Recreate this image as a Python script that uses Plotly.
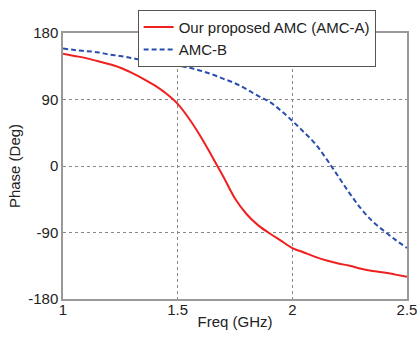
import plotly.graph_objects as go

freq = [1.00, 1.05, 1.10, 1.15, 1.20, 1.25, 1.30, 1.35, 1.40, 1.45, 1.50,
        1.55, 1.60, 1.65, 1.70, 1.75, 1.80, 1.85, 1.90, 1.95, 2.00,
        2.05, 2.10, 2.15, 2.20, 2.25, 2.30, 2.35, 2.40, 2.45, 2.50]

phase_amc_a = [152, 149, 146, 142, 138, 133, 126, 118, 109, 98, 84,
               64, 40, 13, -15, -44, -65, -80, -91, -101, -111,
               -117, -123, -128, -132, -135, -139, -142, -144, -147, -150]

phase_amc_b = [159, 157, 155.5, 154, 151, 149, 146, 143, 141, 139, 136,
               133, 129, 124, 118, 112, 104, 95, 87, 75, 61,
               46, 30, 9, -14, -37, -58, -75, -88, -100, -111]

x_ticks = [1, 1.5, 2, 2.5]
x_tick_labels = ["1", "1.5", "2", "2.5"]
y_ticks = [-180, -90, 0, 90, 180]
y_tick_labels = ["-180", "-90", "0", "90", "180"]

fig = go.Figure()
fig.add_trace(go.Scatter(x=freq, y=phase_amc_a, mode="lines",
                         name="Our proposed AMC (AMC-A)",
                         line=dict(color="#F02020", width=2, shape="spline")))
fig.add_trace(go.Scatter(x=freq, y=phase_amc_b, mode="lines",
                         name="AMC-B",
                         line=dict(color="#2A4EB0", width=2, dash="5px,3px", shape="spline")))

font = "Liberation Sans, Arial, sans-serif"
fig.update_layout(
    width=417, height=337,
    margin=dict(l=63, r=10, t=29, b=38),
    paper_bgcolor="white", plot_bgcolor="white",
    font=dict(family=font, size=14, color="#222"),
    showlegend=True,
    legend=dict(x=0.217, y=1.087, xanchor="left", yanchor="top",
                bgcolor="white", bordercolor="#555", borderwidth=1,
                font=dict(size=15, color="#222"),
                tracegroupgap=0, itemwidth=30),
    xaxis=dict(range=[1, 2.5], tickvals=x_ticks, ticktext=x_tick_labels,
               showgrid=True, gridcolor="#888", griddash="dot", gridwidth=1,
               showline=True, linecolor="#999", linewidth=1.5, mirror=True,
               ticks="", zeroline=False, ticklabelstandoff=-4, automargin=False,
               ticklabeloverflow="allow",
               title=dict(text="Freq (GHz)", standoff=0, font=dict(size=15)),
               tickfont=dict(size=15)),
    yaxis=dict(range=[-180, 180], tickvals=y_ticks, ticktext=y_tick_labels,
               showgrid=True, gridcolor="#888", griddash="dot", gridwidth=1,
               showline=True, linecolor="#999", linewidth=1.5, mirror=True,
               ticks="", zeroline=False, automargin=False,
               ticklabeloverflow="allow",
               title=dict(text="Phase (Deg)", standoff=4, font=dict(size=15)),
               tickfont=dict(size=15)),
)

fig.write_html("out.html")
